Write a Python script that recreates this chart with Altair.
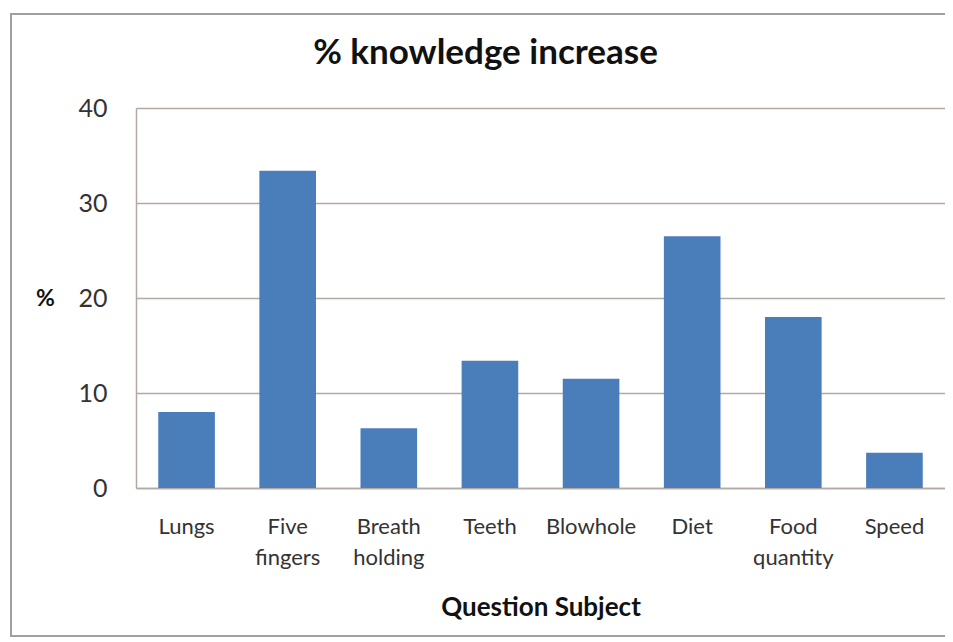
import altair as alt
import pandas as pd

categories = ["Lungs", "Five fingers", "Breath holding", "Teeth", "Blowhole", "Diet", "Food quantity", "Speed"]
values = [8.0, 33.4, 6.3, 13.4, 11.5, 26.5, 18.0, 3.7]

df = pd.DataFrame({"subject": categories, "pct": values})

FONT = "Lato"
GRID = "#B3A9A2"
TEXT = "#333333"

border = alt.Chart(pd.DataFrame({"a": [0]})).mark_rect(
    fill=None, stroke="#A0A0A0", strokeWidth=2
).encode(
    x=alt.value(-125), x2=alt.value(830), y=alt.value(-94), y2=alt.value(528)
)

bars = alt.Chart(df).mark_bar(color="#4A7EBB").encode(
    x=alt.X("subject:N", sort=categories,
            scale=alt.Scale(paddingInner=0.44, paddingOuter=0.22),
            axis=alt.Axis(title="Question Subject", labelAngle=0,
                          labelExpr="split(datum.label, ' ')",
                          labelFontSize=22, labelFont=FONT, labelColor=TEXT,
                          labelLineHeight=31, labelPadding=28, labelBaseline="top",
                          titleFont=FONT, titleFontSize=26, titleFontWeight="bold",
                          titleColor="#111111", titlePadding=26,
                          domainColor=GRID, domainWidth=1.5,
                          ticks=False, grid=False)),
    y=alt.Y("pct:Q", scale=alt.Scale(domain=[0, 40]),
            axis=alt.Axis(title="%", values=[0, 10, 20, 30, 40], titleAngle=0,
                          titleX=-91, titleY=190, titleBaseline="middle", titleAlign="center",
                          titleFont=FONT, titleFontSize=23, titleFontWeight="bold",
                          titleColor="#111111",
                          labelFont=FONT, labelFontSize=25, labelColor=TEXT,
                          labelPadding=29, ticks=False,
                          gridColor=GRID, gridWidth=1.5,
                          domainColor=GRID, domainWidth=1.5)),
)

chart = alt.layer(border, bars).properties(
    width=809, height=380,
    title=alt.TitleParams("% knowledge increase", font=FONT, fontSize=35,
                          fontWeight="bold", color="#111111", anchor="middle",
                          dx=-55, offset=-58),
    autosize=alt.AutoSizeParams(type="none"),
    padding={"left": 128, "top": 100, "right": 0, "bottom": 150},
).configure_view(stroke=None).configure(background="white")

chart.save("out.html", embed_options={"renderer": "svg", "actions": False})
